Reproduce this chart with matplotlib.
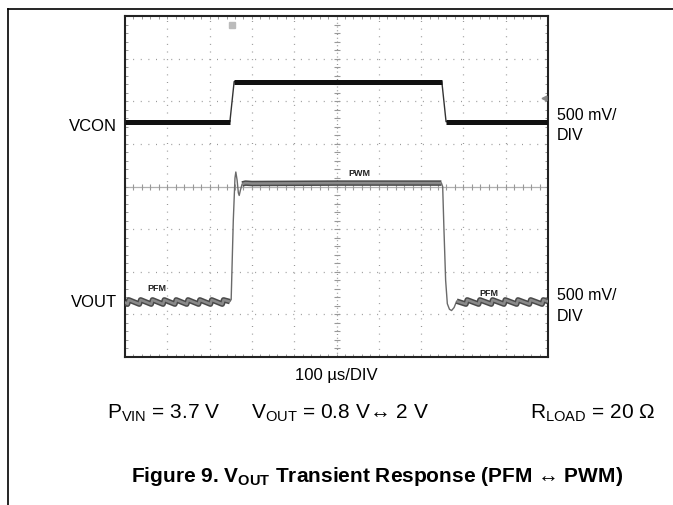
import numpy as np
import matplotlib
matplotlib.use("Agg")
import matplotlib.pyplot as plt
from matplotlib.lines import Line2D

plt.rcParams['font.family'] = ['Liberation Sans', 'DejaVu Sans']
plt.rcParams['mathtext.fontset'] = 'custom'
plt.rcParams['mathtext.rm'] = 'Liberation Sans'
plt.rcParams['mathtext.bf'] = 'Liberation Sans:bold'

# time in us (100 us/DIV, 10 DIV), levels in scope divisions (0..8)
vcon_t = [0, 248, 258, 749, 759, 1000]
vcon_v = [5.52, 5.52, 6.46, 6.46, 5.52, 5.52]

vout_t = [0, 6, 9, 34, 37, 62, 65, 90, 93, 118, 121, 146, 149, 174, 177,
          202, 205, 230, 233, 248,
          251, 256, 260, 262, 265, 268, 270, 273, 277, 285, 300, 500, 748,
          751, 754, 758, 762, 767, 772, 778, 784,
          806, 809, 836, 839, 866, 869, 896, 899, 926, 929, 956, 959,
          986, 989, 1000]
vout_v = [1.29, 1.24, 1.34, 1.24, 1.34, 1.24, 1.34, 1.24, 1.34, 1.24, 1.34,
          1.24, 1.34, 1.24, 1.34, 1.24, 1.34, 1.24, 1.34, 1.30,
          1.35, 3.2, 4.2, 4.34, 4.15, 3.85, 3.79, 3.92, 4.06, 4.08, 4.07, 4.08, 4.08,
          4.0, 3.0, 1.8, 1.25, 1.12, 1.09, 1.16, 1.31,
          1.24, 1.34, 1.24, 1.34, 1.24, 1.34, 1.24, 1.34, 1.24, 1.34, 1.24, 1.34,
          1.24, 1.34, 1.30]

mode_labels = ["PFM", "PWM", "PFM"]
mode_t = [76, 554, 861]
mode_v = [1.63, 4.32, 1.51]

W, H = 673, 506
fig = plt.figure(figsize=(W / 100, H / 100), dpi=100)


def px(x, y):
    return x / W, 1 - y / H


# page frame lines
fig.add_artist(Line2D([8 / W, 1], [1 - 10 / H, 1 - 10 / H], color='black', lw=1.2))
fig.add_artist(Line2D([8 / W, 8 / W], [0, 1 - 10 / H], color='black', lw=1.2))

ax = fig.add_axes([125 / W, 1 - 358 / H, 423 / W, 341 / H])
ax.set_xlim(0, 1000)
ax.set_ylim(0, 8)
for s in ax.spines.values():
    s.set_linewidth(1.5)
    s.set_color('#222222')
ax.set_xticks([])
ax.set_yticks([])
ax.set_xticks(np.arange(0, 1001, 20), minor=True)
ax.set_yticks(np.arange(0, 8.01, 0.2), minor=True)
ax.tick_params(which='minor', direction='in', length=2.5, width=0.7, color='#999999',
               top=True, right=True, labelbottom=False, labelleft=False)

# graticule
for xv in range(100, 1000, 100):
    if xv != 500:
        ax.axvline(xv, color='#999999', lw=0.9, linestyle=(0, (0.8, 5.3)), zorder=1)
for yv in range(1, 8):
    if yv != 4:
        ax.axhline(yv, color='#999999', lw=0.9, linestyle=(0, (0.8, 5.3)), zorder=1)
ax.axhline(4, color='#b0b0b0', lw=0.9, zorder=1)
ax.axvline(500, color='#999999', lw=0.9, linestyle=(0, (0.8, 2.2)), zorder=1)
ax.plot(np.arange(0, 1001, 20), np.full(51, 4.0), '|', color='#999999', ms=4, mew=0.8, zorder=1)
ax.plot(np.full(41, 500.0), np.arange(0, 8.01, 0.2), '_', color='#999999', ms=4, mew=0.8, zorder=1)

vt = np.array(vcon_t, dtype=float)
vv = np.array(vcon_v)
ot = np.array(vout_t, dtype=float)
ov = np.array(vout_v)

# VCON
ax.plot(vt, vv, color='#333333', lw=1.0, zorder=3)
for a, b in [(0, 248), (258, 749), (759, 1000)]:
    m = (vt >= a) & (vt <= b)
    ax.plot(vt[m], vv[m], color='#111111', lw=3.6, solid_capstyle='butt', zorder=3)

# VOUT
ax.plot(ot, ov, color='#6a6a6a', lw=1.0, zorder=3)
for a, b in [(0, 248), (277, 748), (784, 1000)]:
    m = (ot >= a) & (ot <= b)
    ax.plot(ot[m], ov[m], color='#4a4a4a', lw=4.0, solid_capstyle='butt', zorder=3)
    ax.plot(ot[m], ov[m], color='#8a8a8a', lw=1.8, solid_capstyle='butt', zorder=3)

for lab, t, v in zip(mode_labels, mode_t, mode_v):
    ax.text(t, v, lab, ha='center', va='center', fontsize=6.5, fontweight='bold',
            color='#222222', zorder=4)

# scope markers
ax.plot([253], [7.8], marker='s', ms=5, color='#bbbbbb', zorder=4)
ax.plot([990], [6.08], marker='<', ms=3.5, color='#888888', zorder=4)

# labels around the scope
fig.text(*px(117, 131), "VCON", ha='right', va='baseline', fontsize=12)
fig.text(*px(117, 307), "VOUT", ha='right', va='baseline', fontsize=12)
fig.text(*px(557, 120), "500 mV/", ha='left', va='baseline', fontsize=11.5)
fig.text(*px(557, 140), "DIV", ha='left', va='baseline', fontsize=11.5)
fig.text(*px(557, 300), "500 mV/", ha='left', va='baseline', fontsize=11.5)
fig.text(*px(557, 321), "DIV", ha='left', va='baseline', fontsize=11.5)
fig.text(*px(336, 380), "100 µs/DIV", ha='center', va='baseline', fontsize=12)

fig.text(*px(107, 418), r"P$_{\mathregular{VIN}}$ = 3.7 V", ha='left', va='baseline', fontsize=15)
fig.text(*px(251, 418), r"V$_{\mathregular{OUT}}$ = 0.8 V↔ 2 V", ha='left', va='baseline', fontsize=15)
fig.text(*px(655, 418), r"R$_{\mathregular{LOAD}}$ = 20 Ω", ha='right', va='baseline', fontsize=15)

fig.text(*px(377, 482), r"Figure 9. V$_{\mathbf{OUT}}$ Transient Response (PFM ↔ PWM)",
         ha='center', va='baseline', fontsize=15, fontweight='bold')

fig.savefig("out.png", dpi=100)
